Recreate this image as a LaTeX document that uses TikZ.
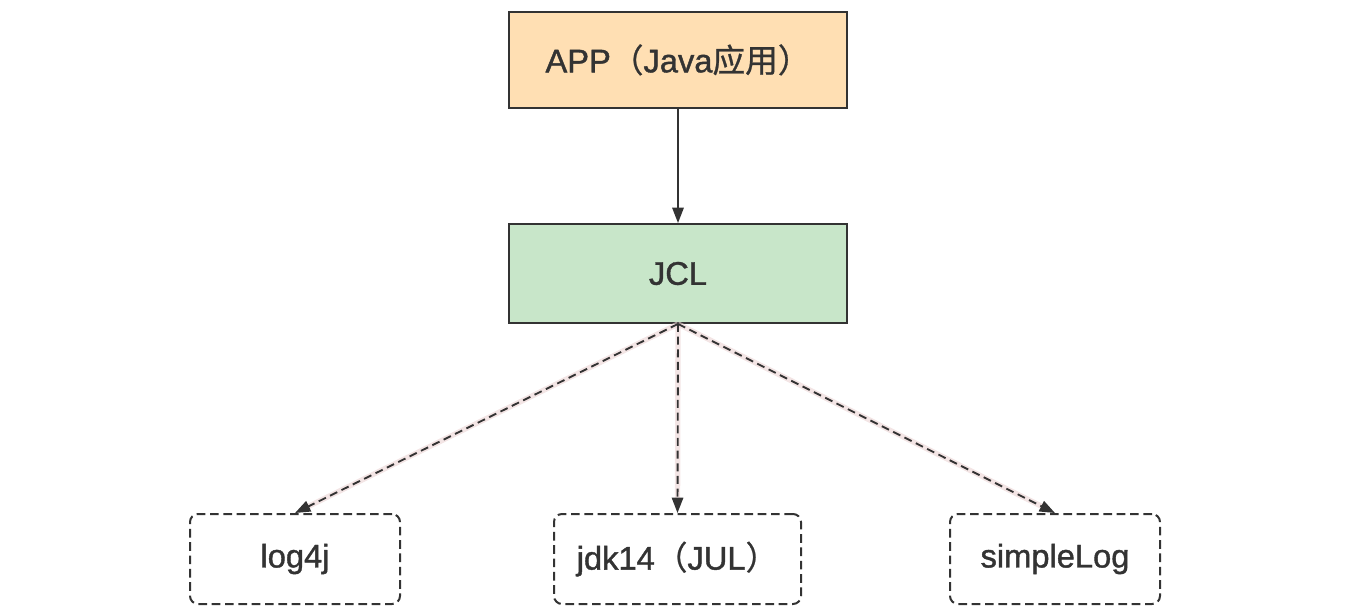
\documentclass[tikz,border=0pt]{standalone}
\usepackage{fontspec}
\setmainfont{Liberation Sans}[FakeBold=1.2]
\newfontfamily\cjk{Noto Sans CJK SC}[FakeBold=0.8]
\usetikzlibrary{arrows.meta}
\definecolor{ink}{HTML}{333333}
\definecolor{appfill}{HTML}{FFDFB3}
\definecolor{jclfill}{HTML}{C8E6C9}
\definecolor{glow}{HTML}{EBD3D3}
\tikzset{
  solidbox/.style={draw=ink, line width=1.4pt, inner sep=0pt, text=ink,
    font=\fontsize{24.5}{28}\selectfont},
  libbox/.style={draw=ink, line width=1.5pt, dash pattern=on 6.5pt off 3.5pt,
    rounded corners=6pt, inner sep=0pt, text=ink, fill=white,
    minimum height=67.5pt, font=\fontsize{24.5}{28}\selectfont},
  conn/.style={draw=ink, line width=1.4pt, -{Triangle[length=11.5pt,width=8.5pt]}},
  dconn/.style={conn, dash pattern=on 6pt off 3.5pt},
  glowline/.style={draw=glow, line width=4pt, opacity=0.6, shorten >=11pt}
}
\begin{document}
\begin{tikzpicture}[x=0.75pt,y=-0.75pt]
\useasboundingbox (0,0) rectangle (1362,614);
\node[solidbox, fill=appfill, minimum width=253.5pt, minimum height=72pt] (app) at (678,60)
  {\raisebox{2.5pt}{APP{\cjk （}Java{\cjk 应用）}}};
\node[solidbox, fill=jclfill, minimum width=253.5pt, minimum height=74.25pt] (jcl) at (678,273.5) {JCL};
\node[libbox, minimum width=157.5pt] (log4j) at (295,559) {log4j};
\node[libbox, minimum width=185.25pt] (jdk) at (677.5,559) {jdk14{\cjk （}JUL{\cjk ）}};
\node[libbox, minimum width=157.5pt] (simple) at (1055,559) {simpleLog};
\draw[conn] (app.south) -- (jcl.north);
\draw[glowline] (jcl.south) -- (log4j.north);
\draw[glowline] (jcl.south) -- (jdk.north);
\draw[glowline] (jcl.south) -- (simple.north);
\draw[dconn] (jcl.south) -- (log4j.north);
\draw[dconn] (jcl.south) -- (jdk.north);
\draw[dconn] (jcl.south) -- (simple.north);
\end{tikzpicture}
\end{document}
